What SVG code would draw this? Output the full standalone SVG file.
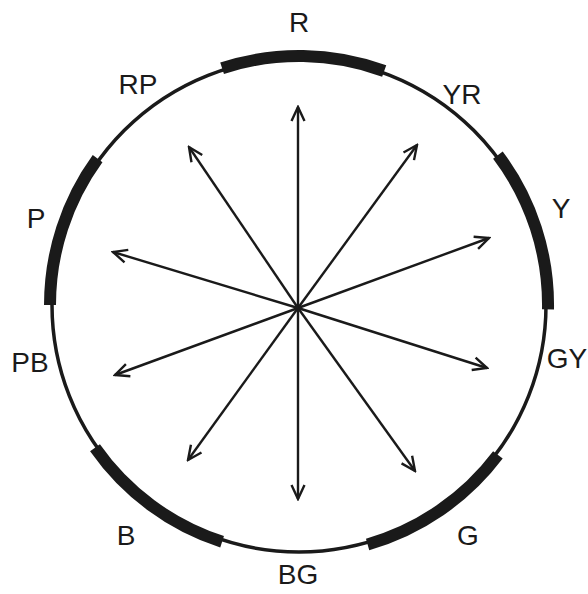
<svg xmlns="http://www.w3.org/2000/svg" width="588" height="594" viewBox="0 0 588 594">
<style>
.ring{fill:none;stroke:#1a1a1a;stroke-width:3.5}
.band{fill:none;stroke:#1a1a1a;stroke-width:12}
.arr{stroke:#1a1a1a;stroke-width:2.4;fill:none;marker-end:url(#head)}
.lbl{font-family:"Liberation Sans",Arial,sans-serif;font-size:28px;fill:#1a1a1a;text-anchor:middle}
</style>
<defs>
<marker id="head" viewBox="0 0 18 18" markerUnits="userSpaceOnUse" markerWidth="18" markerHeight="18" refX="16" refY="9" orient="auto">
<path d="M2,2.5 L16,9 L2,15.5" fill="none" stroke="#1a1a1a" stroke-width="2.4" stroke-linejoin="miter"/>
</marker>
</defs>
<rect width="588" height="594" fill="#ffffff"/>
<g id="wheel">
<circle class="ring" cx="299" cy="305" r="247"/>
<path class="band" d="M222.1,68.2 A249,249 0 0 1 384.2,71.0"/>
<path class="band" d="M497.9,155.1 A249,249 0 0 1 548.0,309.3"/>
<path class="band" d="M497.9,454.9 A249,249 0 0 1 367.6,544.4"/>
<path class="band" d="M222.1,541.8 A249,249 0 0 1 95.0,447.8"/>
<path class="band" d="M50,305 A249,249 0 0 1 97.6,158.6"/>
</g>
<g id="connectors">
<line class="arr" x1="298" y1="308" x2="298" y2="107"/>
<line class="arr" x1="298" y1="308" x2="417" y2="145"/>
<line class="arr" x1="298" y1="308" x2="489" y2="238"/>
<line class="arr" x1="298" y1="308" x2="487" y2="368"/>
<line class="arr" x1="298" y1="308" x2="415" y2="471"/>
<line class="arr" x1="298" y1="308" x2="298" y2="499"/>
<line class="arr" x1="298" y1="308" x2="188" y2="460"/>
<line class="arr" x1="298" y1="308" x2="115" y2="375"/>
<line class="arr" x1="298" y1="308" x2="113" y2="252"/>
<line class="arr" x1="298" y1="308" x2="189" y2="147"/>
</g>
<g id="label-R"><text class="lbl" x="299" y="32">R</text></g>
<g id="label-YR"><text class="lbl" x="462" y="104">YR</text></g>
<g id="label-Y"><text class="lbl" x="561" y="218">Y</text></g>
<g id="label-GY"><text class="lbl" x="567" y="368">GY</text></g>
<g id="label-G"><text class="lbl" x="468" y="545">G</text></g>
<g id="label-BG"><text class="lbl" x="298" y="584">BG</text></g>
<g id="label-B"><text class="lbl" x="126" y="545">B</text></g>
<g id="label-PB"><text class="lbl" x="30" y="372">PB</text></g>
<g id="label-P"><text class="lbl" x="36" y="228">P</text></g>
<g id="label-RP"><text class="lbl" x="138" y="94">RP</text></g>
</svg>
